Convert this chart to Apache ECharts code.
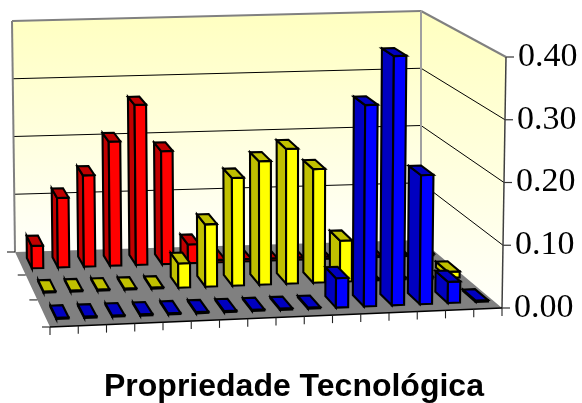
<!DOCTYPE html>
<html><head><meta charset="utf-8">
<style>html,body{margin:0;padding:0;background:#fff}#c{width:582px;height:403px}</style>
<script src="https://cdn.jsdelivr.net/npm/echarts@6/dist/echarts.min.js"></script>
</head><body><div id="c"></div>
<script>
var categories = ['1','2','3','4','5','6','7','8','9','10','11','12','13','14','15','16'];
var redValues    = [0.038,0.118,0.155,0.211,0.272,0.192,0.032,0.004,0.004,0.004,0.004,0.004,0.003,0.003,0.003,0.003];
var yellowValues = [0.002,0.002,0.002,0.002,0.002,0.040,0.103,0.178,0.204,0.223,0.188,0.068,0.003,0.003,0.003,0.010];
var blueValues   = [0.002,0.002,0.002,0.002,0.002,0.002,0.002,0.002,0.002,0.002,0.047,0.323,0.400,0.207,0.034,0.002];
var tickValues   = [0,0.1,0.2,0.3,0.4];
var tickLabels   = ['0.00','0.10','0.20','0.30','0.40'];

// projection: chart box corners on screen (front/back, left/right, floor/top)
var FL=[[50,327],[47,74]], FR=[[502,308],[506,57]], BL=[[15,252],[12,21]], BR=[[421,240],[421,11]];
var rows = 3, K = 1.13;
function depth(q){ var p=1-q; return 1-p/(p+K*(1-p)); }
function project(fx,q,fz){
  var t=depth(q), out=[];
  for(var a=0;a<2;a++){
    var lo=(1-fx)*(1-t)*FL[0][a]+fx*(1-t)*FR[0][a]+(1-fx)*t*BL[0][a]+fx*t*BR[0][a];
    var hi=(1-fx)*(1-t)*FL[1][a]+fx*(1-t)*FR[1][a]+(1-fx)*t*BL[1][a]+fx*t*BR[1][a];
    out.push(lo+(hi-lo)*fz);
  }
  return out;
}
function frac(api,v){ var y0=api.coord([0,0])[1], y1=api.coord([0,0.4])[1]; return (y0-api.coord([0,v])[1])/(y0-y1); }
function poly(pts,fill,stroke,w){ return {type:'polygon',shape:{points:pts},style:{fill:fill,stroke:stroke,lineWidth:w,lineJoin:'miter'}}; }
function seg(a,b,c,w){ return {type:'line',shape:{x1:a[0],y1:a[1],x2:b[0],y2:b[1]},style:{stroke:c,lineWidth:w}}; }

function renderFrame(params,api){
  var kids=[], n=categories.length;
  function wallFill(){ return new echarts.graphic.LinearGradient(0,0,0,1,[{offset:0,color:'#FFFFC0'},{offset:1,color:'#FFFFFA'}]); }
  kids.push(poly([project(0,1,0),project(0,1,1),project(1,1,1),project(1,1,0)],wallFill(),'none',0));
  kids.push(poly([project(1,1,0),project(1,1,1),project(1,0,1),project(1,0,0)],wallFill(),'none',0));
  kids.push(poly([project(0,0,0),project(0,1,0),project(1,1,0),project(1,0,0)],'#808080','none',0));
  tickValues.forEach(function(v){
    var z=frac(api,v);
    if(v>0&&v<0.4){
      kids.push(seg(project(0,1,z),project(1,1,z),'#000',1.1));
      kids.push(seg(project(1,1,z),project(1,0,z),'#000',1));
    }
    var p=project(1,0,z);
    kids.push(seg(p,[p[0]+8,p[1]],'#333',1.2));
  });
  kids.push(seg(project(0,1,1),project(1,1,1),'#808080',2));
  kids.push(seg(project(1,1,1),project(1,0,1),'#808080',2));
  kids.push(seg(project(0,1,0),project(0,1,1),'#808080',2));
  kids.push(seg(project(1,1,0),project(1,1,1),'#a0a0a0',2));
  kids.push(seg(project(1,0,0),project(1,0,1),'#404040',1.5));
  kids.push(seg(project(0,0,0),project(1,0,0),'#000',1.5));
  for(var i=0;i<=n;i++){ var p=project(i/n,0,0); kids.push(seg(p,[p[0],p[1]+8],'#222',1.1)); }
  for(var j=0;j<=rows;j++){ var q=project(0,j/rows,0); kids.push(seg(q,[q[0]-8,q[1]],'#222',1.1)); }
  return {type:'group',children:kids};
}
function barRender(row,front,side){
  return function(params,api){
    var i=api.value(0), v=api.value(1), n=categories.length;
    var x0=(i+0.35)/n, x1=(i+0.79)/n, q0=(row+0.27)/rows, q1=(row+0.72)/rows, z=frac(api,v);
    var a=project(x0,q0,0),b=project(x1,q0,0),c=project(x0,q0,z),d=project(x1,q0,z);
    var e=project(x0,q1,0),g=project(x0,q1,z),h=project(x1,q1,z);
    var W=2.1;
    return {type:'group',children:[
      poly([a,c,g,e],side,'#000',W),
      poly([a,b,d,c],front,'#000',W),
      poly([c,d,h,g],side,'#000',W)
    ]};
  };
}
function barData(vals){ return vals.map(function(v,i){return [i,v];}).reverse(); }
function rowSeries(name,vals,row,front,side){
  return {type:'custom',name:name,data:barData(vals),renderItem:barRender(row,front,side),encode:{x:0,y:1},silent:true};
}
var chart=echarts.init(document.getElementById('c'),null,{renderer:'canvas'});
chart.setOption({
  animation:false,backgroundColor:'#fff',
  title:{text:'Propriedade Tecnológica',left:104,top:371,padding:0,textStyle:{fontFamily:'Liberation Sans',fontWeight:'bold',fontSize:32,color:'#000'}},
  grid:{left:50,right:80,top:57,bottom:95},
  xAxis:{type:'category',data:categories,show:false},
  yAxis:{type:'value',position:'right',min:0,max:0.4,interval:0.1,splitLine:{show:false},axisLine:{show:false},axisTick:{show:false},
    axisLabel:{margin:12,color:'#000',fontFamily:'Liberation Serif',fontSize:34,
      formatter:function(v){return '{a'+Math.round(v*10)+'|'+v.toFixed(2)+'}';},
      rich:{a0:{padding:[0,0,0,0]},a1:{padding:[0,0,0,1]},a2:{padding:[0,0,0,2]},a3:{padding:[0,0,0,3]},a4:{padding:[0,0,0,4]}}}},
  series:[
    {type:'custom',name:'frame',data:[[0,0]],renderItem:renderFrame,encode:{x:0,y:1},silent:true},
    rowSeries('Vermelho',redValues,2,'#FF0000','#C00000'),
    rowSeries('Amarelo',yellowValues,1,'#FFFF00','#C0C000'),
    rowSeries('Azul',blueValues,0,'#0000FF','#0000C0')
  ]
});
</script></body></html>
